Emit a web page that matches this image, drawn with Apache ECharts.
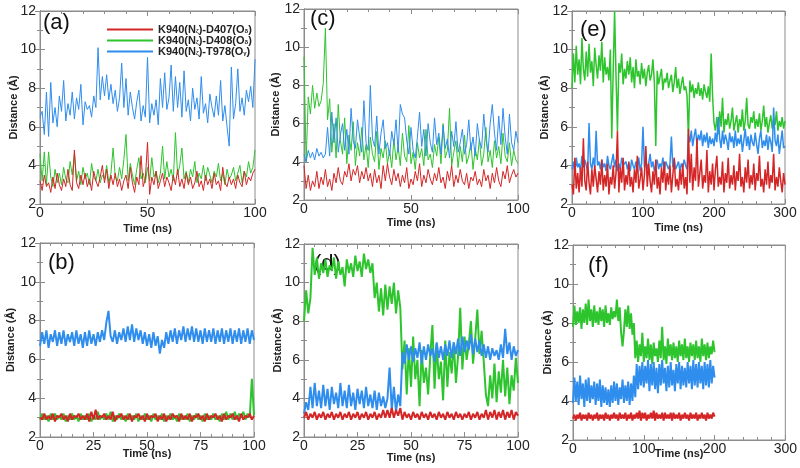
<!DOCTYPE html>
<html>
<head>
<meta charset="utf-8">
<script src="https://cdn.jsdelivr.net/npm/echarts@6/dist/echarts.min.js"></script>
<style>
html,body{margin:0;padding:0;background:#fff}
#main{width:800px;height:468px}
</style>
</head>
<body>
<div id="main"></div>
<script>
// series names (legend shown in panel a)
var names = ['K940(Nζ)-D407(Oδ)', 'K940(Nζ)-D408(Oδ)', 'K940(Nζ)-T978(Oγ)'];

// panel (a): 0-100 ns, 1 ns step
var aRed = [3.2,2.7,3.5,2.9,3.1,2.6,3.4,2.8,3.6,3.0, 2.7,3.3,2.9,3.8,3.0,2.7,4.8,3.1,2.8,3.5,
  3.0,3.6,2.9,3.3,2.7,3.7,3.2,2.9,3.4,4.0, 3.1,3.8,2.8,3.5,3.0,3.6,2.9,3.3,2.7,3.2,
  3.5,2.8,3.9,3.1,2.6,3.4,3.0,4.5,2.9,3.3, 5.2,2.5,3.4,3.0,3.7,2.8,3.2,3.6,2.9,3.4,
  3.1,2.7,3.5,3.0,3.8,2.9,3.3,2.8,3.6,3.0, 3.4,2.8,3.1,3.7,2.9,3.2,2.7,3.5,3.0,3.3,
  2.8,3.6,3.0,3.2,2.7,3.9,3.1,2.9,3.4,3.0, 3.3,2.8,3.5,3.1,2.9,3.7,3.0,3.4,3.2,3.6, 3.8];
var aGreen = [4.6,3.2,4.7,3.0,4.7,3.4,2.9,3.8,3.1,3.6, 3.0,3.9,3.3,3.1,4.2,3.5,4.6,3.2,3.7,3.0,
  3.9,3.3,3.6,3.0,4.1,3.4,3.2,3.8,3.1,3.5, 3.3,4.0,3.1,3.6,4.9,3.4,3.2,3.9,3.3,4.3,
  5.6,3.2,4.1,3.5,3.0,3.8,4.4,3.3,3.6,3.1, 3.9,3.2,4.4,3.4,3.7,3.1,3.6,5.0,3.3,4.2,
  3.4,3.8,3.2,5.7,3.5,4.0,4.9,3.3,3.7,3.1, 3.8,3.4,4.2,3.1,3.6,3.3,4.0,3.2,3.9,3.5,
  3.1,3.7,3.4,4.1,3.2,3.6,3.0,3.8,3.3,3.5, 3.9,3.2,3.6,4.0,3.1,3.7,3.4,4.2,3.6,3.9, 4.8];
var aBlue = [6.5,6.8,5.6,7.8,5.5,8.3,6.2,7.0,6.0,7.6, 6.8,8.4,6.3,7.2,6.6,7.8,6.4,7.5,6.9,8.2,
  6.1,7.3,6.9,7.1,6.5,7.6,7.0,10.1,7.4,8.6, 7.6,8.7,7.4,8.2,7.2,7.9,6.8,7.5,9.3,7.0,
  8.5,6.6,7.8,7.0,6.4,7.3,7.9,6.3,7.1,6.5, 9.6,6.2,7.2,6.6,7.4,6.1,8.5,7.0,8.8,6.9,
  7.5,9.2,6.8,8.6,7.0,8.3,6.5,8.9,6.8,7.4, 6.3,8.0,6.9,7.5,6.4,8.6,6.7,7.2,6.2,7.7,
  7.0,6.5,7.6,6.6,8.4,6.3,7.1,6.0,5.0,9.1, 6.4,7.2,9.0,6.8,7.5,6.6,7.9,7.3,8.1,7.0, 9.5];

// panel (c): 0-100 ns, 1 ns step
var cRed = [3.8,2.6,3.3,2.5,3.0,2.7,3.5,2.6,3.2,2.8, 3.6,2.7,3.1,2.5,3.4,2.9,3.7,3.0,2.8,3.5,
  3.2,3.9,3.0,3.6,3.3,3.8,2.9,3.5,3.1,3.7, 3.0,3.4,2.7,3.6,2.9,3.3,2.6,3.8,3.0,3.9,
  3.2,2.8,3.6,3.0,3.4,2.7,3.3,2.9,3.7,2.6, 3.1,2.8,3.5,3.0,3.9,2.7,3.3,2.9,3.6,3.1,
  2.8,3.4,3.0,3.7,2.9,3.2,2.6,3.5,3.0,3.8, 2.7,3.3,2.9,3.6,3.0,2.8,3.4,2.6,3.2,3.0,
  3.5,2.8,3.1,2.7,3.6,3.0,3.3,2.6,3.4,2.9, 3.7,3.0,2.7,3.5,3.1,3.8,2.9,3.3,3.6,3.2, 3.4];
var cGreen = [9.5,4.0,7.4,6.5,8.0,6.8,7.6,6.9,7.2,8.1, 11.0,6.2,7.3,4.5,6.0,4.2,7.0,5.1,4.4,6.3,
  3.9,5.4,4.6,6.1,3.8,5.0,4.3,5.8,4.1,4.9, 3.7,5.3,4.4,4.0,5.6,3.6,4.7,4.2,5.1,3.9,
  4.6,3.7,5.2,4.1,4.8,3.8,5.5,4.3,4.0,5.9, 3.9,4.5,3.6,5.0,4.2,4.7,3.8,5.7,4.1,4.4,
  3.7,4.9,4.3,5.3,3.9,6.0,4.2,4.6,6.8,3.8, 4.5,5.1,3.7,4.8,4.0,5.4,3.9,4.3,5.0,3.6,
  4.7,4.1,5.2,3.8,4.4,5.8,4.0,4.6,3.7,5.1, 4.2,4.8,3.9,5.5,4.3,4.0,5.0,3.8,4.6,4.1, 3.9];
var cBlue = [4.4,4.0,4.6,4.2,4.5,4.1,4.7,4.3,4.5,4.2, 4.4,5.8,4.3,6.6,5.0,6.3,4.5,5.4,6.0,4.6,
  5.7,4.4,6.8,5.1,4.7,6.2,5.3,4.5,7.2,5.0, 4.6,8.0,5.2,4.8,6.4,4.4,5.5,6.2,4.7,5.0,
  4.3,5.6,4.9,6.2,4.5,7.0,6.5,6.3,5.1,4.4, 5.8,4.6,4.2,5.3,6.6,4.8,5.7,4.3,6.0,5.0,
  4.5,6.3,4.9,5.5,4.4,5.9,4.7,5.2,4.2,5.6, 4.8,6.1,4.5,5.0,5.7,4.4,4.9,6.2,4.6,5.3,
  4.3,6.0,5.1,4.7,6.5,5.2,4.5,6.0,7.0,5.5, 4.6,6.4,4.9,6.8,5.3,4.4,6.5,5.0,4.6,5.6, 5.0];

// panel (e): 0-300 ns, 2 ns step
var eRed = [3.0,2.5,4.4,2.8,3.6,2.6,3.9,2.9,5.4,3.2, 2.7,4.2,3.1,2.5,3.8,2.9,4.0,3.3,2.6,3.7,
  3.0,4.3,2.7,3.5,2.9,4.1,2.5,3.4,3.0,4.0, 2.8,3.6,5.8,2.6,3.9,3.1,4.4,2.7,3.5,3.0,
  4.2,2.9,3.4,2.6,3.8,3.1,4.5,2.8,3.3,3.9, 2.7,3.5,5.0,2.9,4.1,3.2,2.6,3.7,3.0,4.3,
  2.8,3.4,2.5,3.9,3.1,4.2,2.7,3.6,3.0,4.0, 2.6,3.5,4.4,2.9,3.3,2.7,3.8,3.0,4.1,2.8,
  3.4,2.5,5.9,3.1,4.6,2.7,3.9,3.2,5.4,2.9, 3.6,4.3,2.8,3.5,3.1,4.8,2.6,3.7,3.0,4.1,
  2.7,3.8,4.5,2.9,3.4,3.0,4.2,2.6,3.6,3.1, 4.4,2.8,3.5,3.0,4.0,2.7,3.7,3.2,4.6,2.9,
  3.4,2.6,3.9,3.1,4.3,2.8,3.5,3.0,4.1,2.7, 3.6,3.2,4.5,2.9,3.3,2.6,3.8,3.0,4.2,2.8,
  3.5,3.1,4.6,2.7,3.4,2.9,3.9,3.2,2.6,3.6, 3.0];
var eGreen = [8.0,9.8,8.3,10.2,8.7,9.5,8.2,10.6,9.0,8.4, 9.9,8.6,10.3,8.8,9.4,8.1,10.1,9.2,8.5,9.7,
  8.9,10.4,8.3,9.6,8.7,9.1,8.4,10.0,5.4,8.9, 12.0,8.6,5.8,9.3,8.8,9.8,8.2,9.0,8.5,9.4,
  8.7,9.6,8.3,9.1,8.0,9.5,8.6,8.9,8.2,9.3, 8.5,9.0,8.1,8.8,9.2,8.4,8.7,9.5,8.3,5.0,
  8.9,8.2,8.6,9.0,7.9,8.5,8.3,8.8,8.0,8.4, 8.7,7.8,8.3,9.1,8.0,8.5,7.7,8.2,8.6,7.9,
  8.1,7.6,5.5,8.4,7.8,8.2,7.5,8.0,7.7,8.3, 7.6,8.0,7.4,8.2,7.8,7.5,8.1,7.3,9.8,7.6,
  6.2,5.8,6.5,5.6,6.8,6.0,7.5,5.7,6.4,6.1, 6.7,5.9,6.3,7.0,5.8,6.2,6.6,5.7,6.4,6.0,
  6.9,5.8,6.3,7.5,6.1,5.9,6.5,6.2,6.8,5.9, 6.4,6.0,6.7,5.8,6.3,7.1,6.0,6.5,5.7,6.2,
  6.6,5.9,6.4,6.1,6.8,5.8,6.3,6.0,6.5,5.9, 6.3];
var eBlue = [3.8,4.2,3.6,4.4,3.9,4.1,3.7,4.5,3.9,4.3, 4.0,3.7,6.2,4.1,3.8,4.4,3.9,5.8,4.0,4.2,
  3.8,4.3,3.9,4.1,3.7,4.5,4.0,3.8,4.2,4.6, 3.9,4.3,3.7,4.1,3.8,4.4,4.0,3.9,4.2,3.8,
  4.1,3.7,4.3,4.0,3.8,4.2,3.9,4.4,3.7,4.1, 6.0,3.9,4.3,3.8,4.1,4.6,3.9,4.2,3.7,4.0,
  4.3,3.8,4.1,3.9,4.4,3.7,4.2,4.0,3.8,4.1, 5.5,3.9,4.3,3.8,4.0,4.2,3.7,4.1,3.9,4.3,
  4.0,3.8,5.6,5.2,5.8,5.0,5.5,5.9,5.1,5.6, 5.3,5.8,5.0,5.6,5.2,5.7,4.9,5.5,5.1,5.4,
  5.0,5.7,5.2,6.5,5.4,4.9,5.8,5.1,5.6,5.3, 4.8,5.7,5.2,5.5,4.9,5.8,5.0,5.4,5.1,5.6,
  4.7,5.3,5.9,5.0,5.5,4.8,5.6,5.2,5.0,5.7, 5.1,4.6,5.4,5.8,4.9,5.3,5.0,5.6,4.8,5.5,
  5.2,4.7,7.0,5.3,5.0,5.6,4.6,5.2,5.8,4.9, 5.0];

// panel (b): 0-100 ns, 1 ns step
var bRed = [3.0,2.9,3.2,2.9,3.1,2.9,3.2,2.8,3.1,3.0, 3.2,2.9,3.1,2.8,3.2,2.9,3.1,3.0,3.2,2.9,
  3.1,2.9,3.2,2.8,3.3,2.9,3.4,2.9,3.1,3.0, 3.2,2.9,3.1,2.9,3.3,2.8,3.1,3.0,3.2,2.9,
  3.1,2.9,3.2,2.8,3.1,3.0,3.2,2.9,3.1,2.8, 3.2,2.9,3.1,3.0,3.2,2.8,3.1,2.9,3.2,2.8,
  3.1,2.9,3.2,3.0,3.1,2.8,3.2,2.9,3.1,2.9, 3.2,2.8,3.1,3.0,3.2,2.9,3.1,2.8,3.2,2.9,
  3.1,3.0,3.2,2.9,3.1,2.8,3.2,2.9,3.1,3.0, 3.2,2.9,3.1,2.8,3.2,2.9,3.1,3.0,3.2,2.9, 3.1];
var bGreen = [2.9,3.2,2.9,3.1,2.8,3.2,2.9,3.2,2.9,3.1, 2.9,3.2,2.8,3.1,2.9,3.2,2.9,3.1,2.8,3.2,
  2.9,3.1,2.9,3.2,2.8,3.1,2.9,3.3,2.9,3.1, 2.9,3.2,2.9,3.3,2.8,3.1,2.9,3.2,2.9,3.1,
  2.8,3.2,2.9,3.1,2.9,3.2,2.8,3.1,2.9,3.2, 2.9,3.1,2.8,3.2,2.9,3.1,2.9,3.2,2.8,3.1,
  2.9,3.2,2.9,3.1,2.8,3.2,2.9,3.1,2.9,3.2, 2.8,3.1,2.9,3.2,2.9,3.1,2.8,3.2,2.9,3.1,
  2.9,3.2,2.9,3.1,2.8,3.2,2.9,3.3,2.9,3.2, 2.9,3.3,2.9,3.2,3.0,3.3,2.9,3.2,3.0,5.0, 3.1];
var bBlue = [6.7,7.4,6.8,7.5,6.6,7.3,6.9,7.5,6.7,7.4, 6.8,7.5,6.7,7.3,6.9,7.4,6.7,7.5,6.8,7.3,
  6.6,7.4,6.7,7.5,6.8,7.3,6.7,7.4,6.9,7.5, 7.0,7.9,8.5,7.2,6.9,7.5,6.8,7.4,7.0,7.6,
  6.9,7.7,7.0,7.8,6.9,7.6,7.0,7.5,6.8,7.4, 6.7,7.3,6.6,7.4,6.7,7.2,6.3,7.0,6.6,7.4,
  6.8,7.5,6.9,7.6,6.8,7.5,7.0,7.7,6.9,7.6, 7.0,7.7,6.9,7.6,6.9,7.5,6.8,7.6,6.9,7.5,
  6.9,7.6,6.8,7.5,6.9,7.6,6.8,7.5,6.9,7.6, 6.8,7.5,6.9,7.6,6.8,7.5,6.9,7.6,6.8,7.5, 7.0];

// panel (d): 0-100 ns, 1 ns step
var dRed = [3.0,3.3,2.9,3.2,3.0,3.3,2.9,3.2,3.0,3.3, 2.9,3.2,3.0,3.3,2.9,3.2,3.0,3.3,2.9,3.2,
  3.0,3.3,2.9,3.2,3.0,3.3,2.9,3.2,3.0,3.3, 2.9,3.2,3.0,3.3,2.9,3.2,3.0,3.4,3.0,3.4,
  3.0,3.5,3.0,3.4,3.1,3.5,2.9,3.3,3.0,3.2, 2.9,3.3,3.0,3.2,2.9,3.3,3.0,3.2,2.9,3.3,
  3.0,3.2,2.9,3.3,3.0,3.2,2.9,3.3,3.0,3.2, 2.9,3.3,3.0,3.2,2.9,3.2,3.0,3.3,2.9,3.2,
  3.0,3.3,2.9,3.2,3.0,3.4,2.9,3.3,3.0,3.4, 2.9,3.3,3.0,3.4,2.9,3.3,3.0,3.4,2.9,3.3, 3.1];
var dGreen = [8.0,9.6,8.4,9.2,11.8,10.4,11.3,10.2,11.0,10.5, 11.2,10.3,10.9,10.6,11.3,10.2,11.1,10.4,10.8,9.8,
  11.2,10.5,11.0,10.3,11.4,10.6,11.1,10.3,11.5,10.7, 11.2,10.5,11.0,9.2,10.0,8.5,9.7,8.3,9.9,8.6,
  9.8,8.9,10.0,8.4,9.6,8.7,5.5,7.0,4.2,6.6, 4.6,7.2,5.0,6.0,3.6,6.5,4.8,5.6,4.2,6.2,
  7.8,4.5,6.8,5.0,5.9,3.9,7.0,4.6,6.4,5.3, 6.9,4.8,6.2,8.7,5.5,7.2,6.0,6.8,8.0,5.8,
  7.1,8.6,6.3,7.5,5.9,4.2,3.6,5.2,4.0,5.8, 3.8,5.4,4.3,6.0,4.1,5.6,3.7,5.2,4.4,6.1, 4.8];
var dBlue = [3.2,3.8,3.4,4.6,3.5,4.8,3.6,4.4,3.5,4.7, 3.6,4.5,3.4,4.6,3.7,4.3,3.5,4.8,3.6,4.4,
  3.5,4.7,3.6,4.3,3.4,4.5,3.7,4.4,3.5,4.6, 3.6,4.2,3.5,4.4,3.4,4.3,3.6,4.1,3.5,4.0,
  5.6,3.4,4.6,3.3,4.2,3.6,6.4,5.8,6.8,6.0, 6.7,5.9,6.6,6.1,6.9,5.8,6.7,6.0,6.8,6.2,
  6.6,5.9,6.9,6.1,6.7,6.0,6.8,6.2,7.0,6.1, 6.9,6.3,7.1,6.2,7.2,6.4,7.0,6.5,7.3,6.3,
  7.1,6.4,7.0,6.2,6.8,6.1,6.7,6.0,6.6,6.2, 6.5,6.0,6.8,6.1,7.6,6.3,6.9,6.0,6.7,6.2, 6.5];

// panel (f): 0-200 ns, 2 ns step (axis to 300)
var fRed = [3.1,3.3,3.0,3.3,3.1,3.4,3.0,3.3,3.1,3.3, 3.0,3.4,3.1,3.3,3.0,3.3,3.1,3.4,3.0,3.3,
  3.1,3.3,3.0,3.4,3.1,3.3,3.0,3.3,3.1,3.4, 3.1,3.3,3.0,3.4,3.1,3.3,3.1,3.4,3.0,3.3,
  3.1,3.4,3.0,3.3,3.1,3.4,3.1,3.5,3.0,3.4, 3.1,3.4,3.0,3.3,3.1,3.4,3.1,3.5,3.0,3.4,
  3.1,3.3,3.1,3.4,3.0,3.4,3.1,3.3,3.1,3.4, 3.0,3.4,3.1,3.3,3.1,3.4,3.0,3.3,3.1,3.4,
  3.1,3.3,3.0,3.4,3.1,3.3,3.1,3.4,3.0,3.3, 3.1,3.4,3.1,3.3,3.0,3.4,3.1,3.3,3.1,3.4, 3.2];
var fGreen = [7.8,8.9,7.9,8.6,8.0,8.8,7.7,8.7,8.0,9.0, 7.9,9.2,8.1,8.7,7.8,8.9,8.0,8.6,7.9,8.8,
  8.1,8.7,7.8,8.9,8.0,8.5,7.9,8.8,8.2,8.6, 8.3,9.2,8.1,8.8,7.5,6.8,7.6,8.7,7.8,8.9,
  7.7,8.5,7.4,8.0,6.2,7.1,6.0,6.9,6.3,7.5, 6.0,6.8,6.2,7.2,6.1,6.9,5.9,7.0,6.3,6.7,
  6.0,7.1,6.2,7.8,6.1,6.8,5.9,7.2,6.3,6.9, 6.1,7.0,6.2,6.8,6.0,7.1,6.3,6.9,6.1,7.2,
  6.2,6.8,6.0,7.0,6.3,6.9,6.1,7.1,6.2,6.8, 6.0,7.2,6.3,6.9,6.1,7.0,6.2,6.8,6.4,7.1, 6.5];
var fBlue = [3.9,5.2,4.0,5.0,3.8,5.3,4.1,4.9,3.7,5.1, 4.0,5.2,3.9,4.8,4.1,5.0,3.8,4.9,4.0,5.1,
  3.7,4.8,3.9,4.7,3.8,4.6,3.7,4.8,3.9,5.0, 4.0,4.9,3.8,4.7,4.1,5.1,3.9,4.8,4.0,5.0,
  3.8,4.9,4.0,5.3,4.2,5.9,4.6,5.8,4.8,6.0, 4.7,5.8,4.9,6.1,4.5,5.9,4.8,6.0,4.6,5.7,
  4.4,5.9,4.8,6.1,4.9,5.7,4.5,5.8,4.7,6.0, 4.8,5.6,4.5,5.9,4.9,6.0,4.6,5.8,4.8,5.7,
  4.7,6.0,4.9,5.8,4.6,6.1,4.8,5.9,4.7,6.0, 4.9,5.8,4.6,6.0,4.8,5.9,4.7,6.1,4.9,5.8, 5.2];

var xTicks = {a: 50, c: 50, e: 100, b: 25, d: 25, f: 100};
var colors = ['#d42626', '#2ec42e', '#2f8ded'];

var panels = [
  {label: '(a)', left: 40, top: 11, width: 215, height: 193, xmax: 100, xint: xTicks.a, step: 1, red: aRed, green: aGreen, blue: aBlue, gapX: 19, gapY: 21, lx: 43, ly: 12, lw: 1},
  {label: '(c)', left: 304, top: 9, width: 214, height: 191, xmax: 100, xint: xTicks.c, step: 1, red: cRed, green: cGreen, blue: cBlue, gapX: 17, gapY: 23, lx: 310, ly: 8, lw: 1},
  {label: '(e)', left: 572, top: 11, width: 213, height: 193, xmax: 300, xint: xTicks.e, step: 2, red: eRed, green: eGreen, blue: eBlue, gapX: 18, gapY: 22, lx: 580, ly: 19, lw: 1.5},
  {label: '(b)', left: 40, top: 243, width: 214, height: 194, xmax: 100, xint: xTicks.b, step: 1, red: bRed, green: bGreen, blue: bBlue, gapX: 11, gapY: 24, lx: 48, ly: 252, lw: 2},
  {label: '(d)', left: 304, top: 244, width: 214, height: 193, xmax: 100, xint: xTicks.d, step: 1, red: dRed, green: dGreen, blue: dBlue, gapX: 15, gapY: 21, lx: 314, ly: 253, lw: 2},
  {label: '(f)', left: 573, top: 245, width: 213, height: 195, xmax: 300, xint: xTicks.f, step: 2, red: fRed, green: fGreen, blue: fBlue, gapX: 8, gapY: 20, lx: 588, ly: 255, lw: 2}
];

var font = 'Liberation Sans, Arial, sans-serif';
var frame = '#8c8c8c';

function pairs(arr, step) {
  return arr.map(function (v, i) { return [i * step, v]; });
}

var grid = [], xAxis = [], yAxis = [], series = [], graphic = [];
panels.forEach(function (p, k) {
  grid.push({left: p.left, top: p.top, width: p.width, height: p.height, show: true, borderColor: frame, borderWidth: 1});
  var tick = {show: true, inside: true, length: 5, lineStyle: {color: frame}};
  var minor = {show: true, splitNumber: 5, length: 3, lineStyle: {color: frame}};
  xAxis.push({
    gridIndex: k, type: 'value', min: 0, max: p.xmax, interval: p.xint,
    name: 'Time (ns)', nameLocation: 'middle', nameGap: p.gapX, nameMoveOverlap: false,
    nameTextStyle: {fontFamily: font, fontWeight: 'bold', fontSize: 11, color: '#222'},
    axisLine: {lineStyle: {color: frame}}, axisTick: tick, minorTick: minor,
    splitLine: {show: false},
    axisLabel: {fontFamily: font, fontSize: 14, color: '#222', margin: 2}
  });
  xAxis.push({
    gridIndex: k, type: 'value', position: 'top', min: 0, max: p.xmax, interval: p.xint,
    axisLine: {lineStyle: {color: frame}}, axisTick: tick, minorTick: minor,
    splitLine: {show: false}, axisLabel: {show: false}
  });
  var yminor = {show: true, splitNumber: 2, length: 3, lineStyle: {color: frame}};
  yAxis.push({
    gridIndex: k, type: 'value', min: 2, max: 12, interval: 2,
    name: 'Distance (Å)', nameLocation: 'middle', nameGap: p.gapY, nameMoveOverlap: false,
    nameTextStyle: {fontFamily: font, fontWeight: 'bold', fontSize: 11, color: '#222'},
    axisLine: {show: true, lineStyle: {color: frame}}, axisTick: tick, minorTick: yminor,
    splitLine: {show: false},
    axisLabel: {fontFamily: font, fontSize: 14, color: '#222', margin: 4}
  });
  yAxis.push({
    gridIndex: k, type: 'value', position: 'right', min: 2, max: 12, interval: 2,
    axisLine: {show: true, lineStyle: {color: frame}}, axisTick: tick, minorTick: yminor,
    splitLine: {show: false}, axisLabel: {show: false}
  });
  // draw order: green, blue, red on top
  [[names[1], p.green, colors[1]], [names[2], p.blue, colors[2]], [names[0], p.red, colors[0]]].forEach(function (s) {
    series.push({
      name: s[0], type: 'line', xAxisIndex: k * 2, yAxisIndex: k * 2,
      data: pairs(s[1], p.step), showSymbol: false, symbol: 'none',
      lineStyle: {width: p.lw, color: s[2]}, itemStyle: {color: s[2]}
    });
  });
  graphic.push({type: 'text', left: p.lx, top: p.ly, style: {text: p.label, font: '22px ' + font, fill: '#111'}});
});

var myChart = echarts.init(document.getElementById('main'));
myChart.setOption({
  backgroundColor: '#fff',
  animation: false,
  grid: grid,
  xAxis: xAxis,
  yAxis: yAxis,
  series: series,
  graphic: graphic,
  legend: {
    data: names, orient: 'vertical', left: 102, top: 19, itemGap: 0,
    icon: 'rect', itemWidth: 46, itemHeight: 2,
    formatter: function (n) { return n.replace(/([NO])([ζδγ])/g, '$1{s|$2}'); },
    textStyle: {fontFamily: font, fontWeight: 'bold', fontSize: 11, color: '#222', lineHeight: 10,
      rich: {s: {fontFamily: font, fontSize: 6, fontWeight: 'bold', color: '#222', verticalAlign: 'bottom', lineHeight: 10}}}
  }
});
window.addEventListener('resize', function () { myChart.resize(); });
</script>
</body>
</html>
